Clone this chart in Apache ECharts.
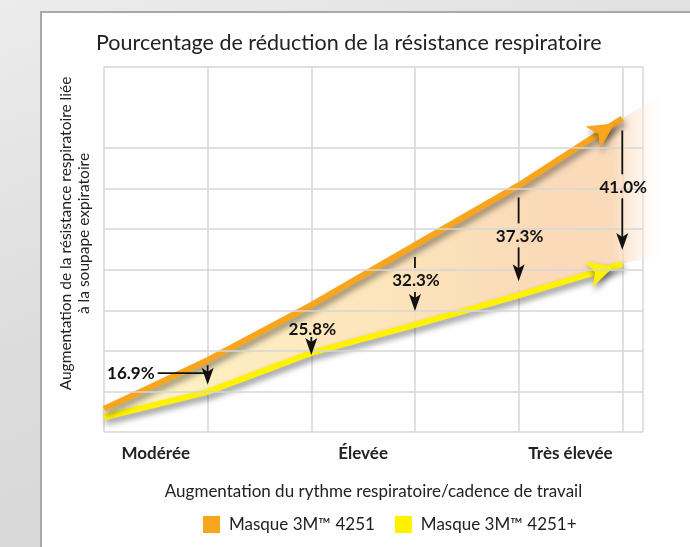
<!DOCTYPE html>
<html>
<head>
<meta charset="utf-8">
<script src="https://cdn.jsdelivr.net/npm/echarts@6/dist/echarts.min.js"></script>
<style>
  html, body { margin: 0; padding: 0; }
  #chart {
    width: 690px;
    height: 547px;
    background: linear-gradient(160deg, #ececed 0%, #dcdcdd 45%, #d3d4d5 100%);
  }
</style>
</head>
<body>
<div id="chart"></div>
<script>
// valeurs (unités arbitraires)
const xValues = [0, 1, 2, 3, 4, 5];
const masque4251 = [0.57, 1.77, 3.13, 4.61, 6.08, 7.73];
const masque4251Plus = [0.36, 0.99, 1.95, 2.64, 3.37, 4.14];

// bande colorée entre les deux courbes, prolongée au-delà de la dernière flèche
const bandX = [0, 1, 2, 3, 4, 5, 5.46];
const bandUpper = [0.57, 1.77, 3.13, 4.61, 6.08, 7.73, 8.47];
const bandLower = [0.36, 0.99, 1.95, 2.64, 3.37, 4.14, 4.43];

const reductionX = [1, 2, 3, 4, 5];
const reductionLabels = ['16.9%', '25.8%', '32.3%', '37.3%', '41.0%'];

const rateLabels = ['Modérée', 'Élevée', 'Très élevée'];
const ratePositions = [0.5, 2.5, 4.5];

// lignes horizontales de la grille (il n'y en a pas à 8)
const yGridValues = [0, 1, 2, 3, 4, 5, 6, 7, 9];

const FONT = 'Lato, "Noto Sans", sans-serif';
const ORANGE = '#f7a51c';
const YELLOW = '#fff200';
const GRID = '#d6d6d6';

const chart = echarts.init(document.getElementById('chart'));

const zip = (xs, ys) => xs.map((x, i) => [x, ys[i]]);

function withArrow(xs, ys, rotate, offset) {
  const pts = zip(xs, ys);
  const last = pts.length - 1;
  pts[last] = {
    value: pts[last],
    symbol: 'arrow',
    symbolSize: [20, 26],
    symbolRotate: rotate,
    symbolOffset: offset
  };
  return pts;
}

function bandItem(params, api) {
  if (params.dataIndex !== 0) return null;
  const top = bandX.map((x, i) => api.coord([x, bandUpper[i]]));
  const bot = bandX.map((x, i) => api.coord([x, bandLower[i]])).reverse();
  const x0 = top[0][0];
  const x1 = top[top.length - 1][0];
  return {
    type: 'polygon',
    shape: { points: top.concat(bot) },
    style: {
      opacity: 0.85,
      fill: new echarts.graphic.LinearGradient(x0, 0, x1, 0, [
        { offset: 0, color: '#fef3bd' },
        { offset: 0.4, color: '#fce3b0' },
        { offset: 0.8, color: '#f9d3ab' },
        { offset: 0.9, color: '#f9d4ae' },
        { offset: 1, color: 'rgba(255,255,255,0)' }
      ], true)
    }
  };
}

function reductionItem(params, api) {
  const i = params.dataIndex;
  const p1 = api.coord([api.value(0), api.value(1)]);
  const p2 = api.coord([api.value(0), api.value(2)]);
  const x = p1[0], yTop = p1[1], yBot = p2[1];
  const text = reductionLabels[i];
  const stroke = { stroke: '#111', lineWidth: 1.8 };
  const seg = (a, b) => ({ type: 'line', shape: { x1: x, y1: a, x2: x, y2: b }, style: stroke });
  const head = tip => ({
    type: 'polygon',
    shape: { points: [[x - 6, tip - 17], [x, tip - 13], [x + 6, tip - 17], [x, tip]] },
    style: { fill: '#111' }
  });
  const label = (tx, ty, align) => ({
    type: 'text', x: tx, y: ty,
    style: { text, fill: '#111', fontSize: 17, fontWeight: 'bold', fontFamily: FONT, align, verticalAlign: 'middle' }
  });
  const kids = [];
  if (i === 0) {
    const ym = yTop + 13;
    const tip = yBot - 7;
    kids.push(seg(yTop + 5, tip - 12), head(tip),
      { type: 'line', shape: { x1: x - 50, y1: ym, x2: x, y2: ym }, style: stroke },
      label(x - 53, ym, 'right'));
  } else if (i === 1) {
    const ty = yTop + 24;
    const tip = yBot + 2;
    kids.push(label(x + 1, ty, 'center'), seg(ty + 8, tip - 12), head(tip));
  } else {
    const a = yTop + 12;
    const tip = yBot - 14;
    const ty = (a + tip) / 2 - 3;
    kids.push(seg(a, ty - 13), label(x + 1, ty, 'center'), seg(ty + 11, tip - 12), head(tip));
  }
  return { type: 'group', children: kids };
}

const lineShadow = {
  shadowColor: 'rgba(0,0,0,0.45)',
  shadowBlur: 6,
  shadowOffsetX: 2,
  shadowOffsetY: 4
};

const option = {
  animation: false,
  graphic: [{
    type: 'rect',
    z: -10,
    shape: { x: 41, y: 12, width: 700, height: 600 },
    style: { fill: '#ffffff', stroke: '#a9a9aa', lineWidth: 2 }
  }],
  title: {
    text: 'Pourcentage de réduction de la résistance respiratoire',
    left: 91,
    top: 27,
    textStyle: { fontFamily: FONT, fontSize: 21.5, fontWeight: 'normal', color: '#222' }
  },
  legend: {
    left: 198,
    top: 511,
    icon: 'rect',
    itemWidth: 17,
    itemHeight: 17,
    itemGap: 20,
    data: ['Masque 3M™ 4251', 'Masque 3M™ 4251+'],
    textStyle: { fontFamily: FONT, fontSize: 17, color: '#222', padding: [0, 0, 0, 4] }
  },
  grid: { left: 104, right: 47, top: 67, bottom: 115 },
  xAxis: {
    type: 'value',
    min: 0,
    max: 5.2,
    interval: 1,
    name: 'Augmentation du rythme respiratoire/cadence de travail',
    nameLocation: 'middle',
    nameGap: 51,
    nameTextStyle: { fontFamily: FONT, fontSize: 17, color: '#222' },
    axisLine: { show: false },
    axisTick: { show: false },
    axisLabel: {
      customValues: ratePositions,
      margin: 13,
      fontFamily: FONT,
      fontSize: 17,
      fontWeight: 'bold',
      color: '#222',
      formatter: v => rateLabels[ratePositions.indexOf(v)] || ''
    },
    splitLine: { show: true, lineStyle: { color: GRID, width: 1.5 } }
  },
  yAxis: {
    type: 'value',
    min: 0,
    max: 9,
    interval: 1,
    name: 'Augmentation de la résistance respiratoire liée\nà la soupape expiratoire',
    nameLocation: 'middle',
    nameRotate: 90,
    nameGap: 11,
    nameTextStyle: { fontFamily: FONT, fontSize: 15.5, color: '#222', lineHeight: 18, padding: [0, 0, 0, 32] },
    axisLine: { show: false },
    axisTick: { show: false },
    axisLabel: { show: false },
    splitLine: { show: false }
  },
  series: [
    {
      name: 'grille',
      type: 'line',
      data: yGridValues.map(v => [0, v]),
      symbol: 'none',
      lineStyle: { width: 0, opacity: 0 },
      silent: true,
      z: 0,
      markLine: {
        silent: true,
        symbol: ['none', 'none'],
        label: { show: false },
        lineStyle: { color: GRID, width: 1.5, type: 'solid' },
        emphasis: { disabled: true },
        data: yGridValues.map(v => ({ yAxis: v }))
      }
    },
    {
      name: 'bande',
      type: 'custom',
      renderItem: bandItem,
      data: zip(bandX, bandUpper),
      encode: { x: 0, y: 1 },
      clip: false,
      silent: true,
      z: 1
    },
    {
      name: 'Masque 3M™ 4251+',
      type: 'line',
      data: withArrow(xValues, masque4251Plus, -73, [-8.6, 2.6]),
      symbol: 'none',
      color: YELLOW,
      lineStyle: Object.assign({ width: 6, color: YELLOW }, lineShadow),
      itemStyle: Object.assign({ color: YELLOW }, lineShadow),
      clip: false,
      z: 3
    },
    {
      name: 'Masque 3M™ 4251',
      type: 'line',
      data: withArrow(xValues, masque4251, -57, [-7.6, 4.9]),
      symbol: 'none',
      color: ORANGE,
      lineStyle: Object.assign({ width: 6, color: ORANGE }, lineShadow),
      itemStyle: Object.assign({ color: ORANGE }, lineShadow),
      clip: false,
      z: 4
    },
    {
      name: 'réduction',
      type: 'custom',
      renderItem: reductionItem,
      data: reductionX.map(x => [x, masque4251[xValues.indexOf(x)], masque4251Plus[xValues.indexOf(x)]]),
      encode: { x: 0, y: [1, 2] },
      silent: true,
      z: 5
    }
  ]
};

chart.setOption(option);
</script>
</body>
</html>
